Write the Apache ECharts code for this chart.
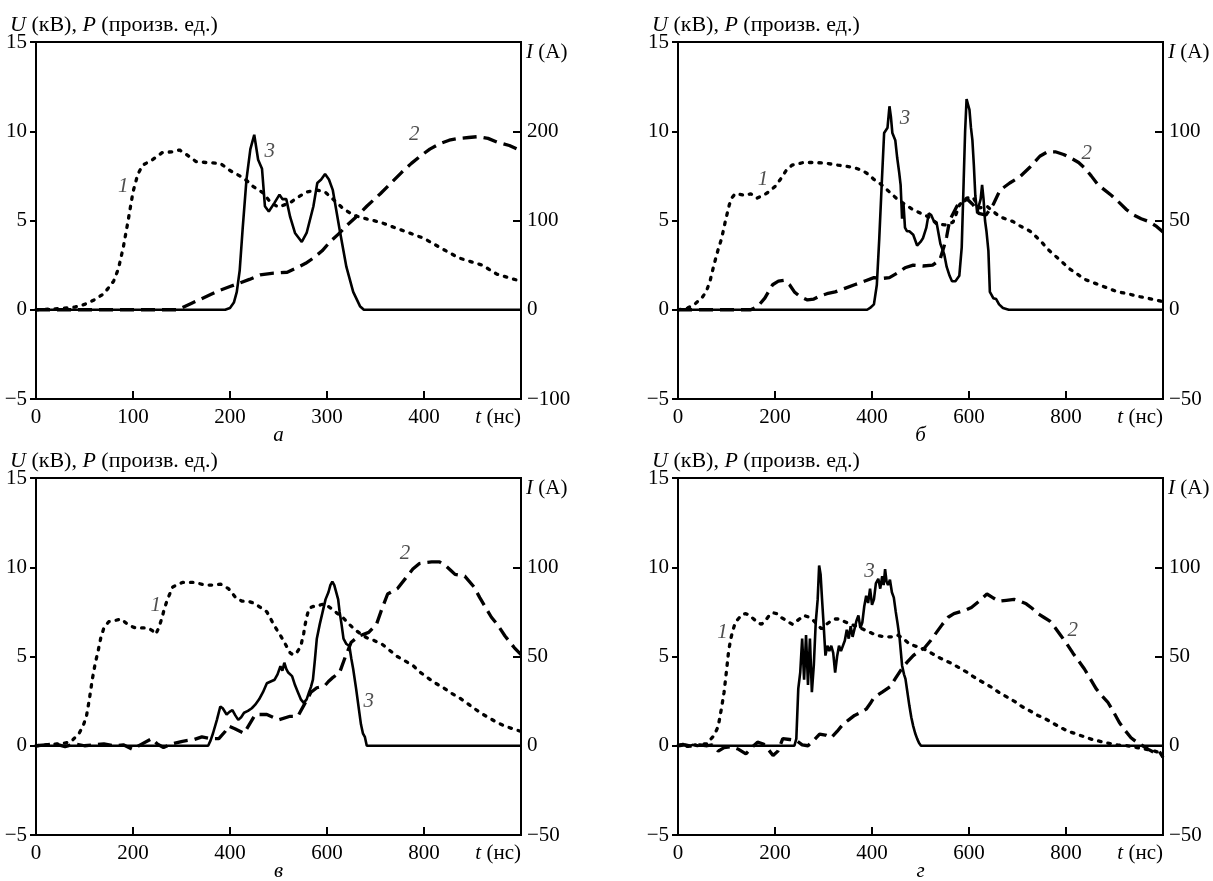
<!DOCTYPE html>
<html><head><meta charset="utf-8">
<script src="https://cdn.jsdelivr.net/npm/echarts@6/dist/echarts.min.js"></script>
<style>html,body{margin:0;padding:0;background:#fff}#c{width:1213px;height:881px}</style>
</head><body><div id="c"></div>
<script>
// ---- Panel а (t 0..500 нс; curve 3 in A, right axis −100..200)
const A1 = [[0,0],[20,0.05],[40,0.15],[50,0.3],[60,0.55],[70,0.9],[80,1.6],[85,2.3],[90,3.5],[95,5.0],[100,6.6],[105,7.6],[110,8.1],[120,8.4],[130,8.8],[140,8.85],[148,8.95],[155,8.7],[165,8.3],[175,8.25],[190,8.2],[200,7.8],[210,7.5],[218,7.2],[224,6.9],[234,6.55],[242,6.0],[250,5.75],[262,6.0],[270,6.3],[279,6.6],[290,6.7],[298,6.6],[306,6.2],[316,5.7],[327,5.3],[340,5.1],[355,4.9],[370,4.6],[385,4.3],[400,4.0],[416,3.5],[436,2.9],[460,2.5],[475,2.0],[490,1.75],[500,1.6]];
const A2 = [[0,0],[145,0],[150,0.1],[160,0.35],[170,0.6],[180,0.85],[190,1.1],[200,1.3],[210,1.5],[220,1.7],[231,1.95],[245,2.05],[259,2.1],[269,2.35],[278,2.6],[286,2.9],[295,3.3],[303,3.8],[312,4.25],[320,4.7],[330,5.2],[341,5.8],[355,6.5],[366,7.1],[377,7.7],[387,8.2],[396,8.6],[406,9.0],[416,9.3],[426,9.5],[436,9.6],[446,9.65],[456,9.7],[466,9.6],[475,9.4],[488,9.2],[500,8.9]];
const A3 = [[0,0],[195,0],[200,2],[204,8],[207,20],[210,44],[213,90],[217,146],[221,180],[225,196],[229,168],[233,158],[236,116],[240,110],[246,120],[251,129],[254,124],[258,124],[262,104],[267,86],[274,76],[279,86],[286,116],[290,142],[294,146],[298,152],[302,146],[306,134],[313,90],[320,48],[327,20],[334,4],[338,0],[500,0]];
const A_LBL = [[90,6.9,'1'],[390,9.8,'2'],[241,8.85,'3']];

// ---- Panel б (t 0..1000 нс; curve 3 in A, right axis −50..100)
const B1 = [[0,0],[20,0.1],[34,0.3],[50,0.7],[58,1.0],[66,1.6],[74,2.5],[82,3.3],[90,4.0],[98,5.0],[106,5.9],[112,6.3],[118,6.5],[130,6.45],[140,6.4],[150,6.5],[163,6.25],[175,6.4],[187,6.6],[200,6.9],[211,7.3],[223,7.8],[235,8.1],[259,8.25],[283,8.25],[307,8.2],[330,8.1],[356,8.0],[370,7.9],[380,7.8],[392,7.6],[404,7.3],[420,7.0],[436,6.6],[452,6.2],[468,5.9],[485,5.6],[501,5.4],[520,5.15],[534,4.8],[550,4.75],[567,4.9],[581,5.9],[595,6.25],[608,6.3],[622,5.7],[637,5.8],[650,5.5],[664,5.2],[690,4.95],[705,4.7],[726,4.4],[746,3.9],[766,3.3],[787,2.8],[807,2.3],[823,2.0],[839,1.7],[863,1.45],[887,1.2],[907,1.0],[927,0.9],[948,0.75],[968,0.65],[985,0.55],[1000,0.45]];
const B2 = [[0,0],[150,0],[165,0.2],[179,0.65],[195,1.4],[207,1.6],[219,1.65],[230,1.4],[240,1.0],[251,0.75],[267,0.55],[280,0.6],[291,0.75],[307,0.9],[324,1.0],[344,1.2],[364,1.4],[384,1.6],[404,1.8],[420,1.75],[436,1.8],[452,2.05],[468,2.35],[485,2.5],[505,2.45],[525,2.5],[540,2.8],[548,3.5],[554,4.1],[560,5.0],[575,5.8],[596,6.2],[608,5.9],[620,5.4],[635,5.3],[650,5.9],[664,6.7],[684,7.1],[705,7.45],[726,8.0],[746,8.6],[762,8.85],[778,8.85],[795,8.7],[810,8.5],[826,8.25],[840,7.9],[852,7.5],[866,7.0],[880,6.7],[894,6.4],[910,6.0],[925,5.6],[940,5.3],[955,5.1],[970,4.95],[985,4.7],[1000,4.35]];
const B3 = [[0,0],[390,0],[396,1],[404,3],[410,14],[415,40],[420,70],[425,99],[428,100],[432,102],[436,114],[439,108],[442,99],[445,100],[448,95],[452,85],[456,77],[459,70],[462,51],[465,59],[468,46],[472,44],[477,44],[485,42],[493,36],[500,38],[505,40],[512,46],[517,54],[522,53],[527,50],[533,49],[541,37],[549,31],[554,24],[560,19],[565,16],[572,16],[580,19],[585,35],[589,72],[592,100],[595,118],[598,115],[601,112],[604,102],[607,95],[610,81],[613,64],[617,54],[620,58],[624,62],[627,70],[630,62],[633,50],[636,44],[640,33],[643,10],[647,8],[650,6.5],[656,6],[662,3],[670,1],[682,0],[1000,0]];
const B_LBL = [[175,7.3,'1'],[843,8.75,'2'],[468,10.7,'3']];

// ---- Panel в
const C1 = [[0,0],[20,0.05],[41,0.1],[60,0.15],[73,0.25],[89,0.7],[97,1.1],[104,1.65],[110,2.6],[116,3.7],[122,4.6],[128,5.3],[134,6.1],[140,6.6],[150,6.95],[160,7.0],[176,7.1],[191,6.75],[205,6.6],[215,6.6],[231,6.6],[240,6.45],[247,6.25],[253,6.6],[259,7.1],[265,7.7],[271,8.2],[282,8.9],[302,9.15],[326,9.15],[350,9.0],[365,9.0],[381,9.05],[397,8.8],[413,8.25],[425,8.1],[437,8.1],[448,8.0],[460,7.8],[476,7.5],[484,7.1],[492,6.7],[500,6.35],[508,6.0],[516,5.6],[524,5.2],[530,5.1],[536,5.15],[542,5.4],[547,5.7],[552,6.3],[555,6.8],[559,7.3],[563,7.7],[571,7.8],[579,7.8],[587,7.9],[595,7.95],[603,7.8],[611,7.65],[622,7.4],[634,7.15],[646,6.8],[658,6.5],[670,6.25],[682,6.05],[697,5.9],[713,5.7],[729,5.35],[745,5.0],[761,4.75],[777,4.5],[793,4.1],[808,3.8],[824,3.5],[840,3.25],[856,2.95],[872,2.7],[888,2.4],[903,2.1],[919,1.8],[935,1.55],[951,1.3],[967,1.1],[983,0.95],[1000,0.8]];
const C2 = [[0,0],[20,0.05],[40,0.1],[60,-0.05],[80,0.1],[100,0],[120,0.05],[140,0.1],[160,0],[180,0.05],[199,-0.2],[215,0.05],[239,0.4],[250,0.1],[263,-0.1],[280,0.1],[302,0.25],[326,0.35],[342,0.5],[361,0.4],[377,0.4],[390,0.8],[397,1.1],[410,0.95],[429,0.7],[440,1.2],[452,1.75],[476,1.75],[500,1.45],[524,1.65],[540,1.65],[555,2.4],[567,3.0],[579,3.25],[595,3.35],[603,3.6],[611,3.8],[626,4.1],[638,5.0],[650,5.8],[666,6.15],[686,6.35],[702,6.8],[713,7.65],[725,8.5],[745,8.8],[761,9.35],[777,9.9],[790,10.2],[801,10.25],[816,10.3],[832,10.3],[844,10.1],[856,9.8],[864,9.6],[884,9.5],[903,8.9],[915,8.3],[927,7.75],[939,7.2],[951,6.8],[967,6.15],[986,5.5],[1000,5.1]];
const C3 = [[0,0],[355,0],[360,3],[365,7],[373,14.5],[380,22],[385,21],[393,17.5],[399,19],[405,20],[411,17],[417,14.5],[423,16],[429,18.5],[437,19.5],[445,21],[452,23],[460,26],[468,30],[476,35],[484,36],[492,37],[498,40],[504,44.5],[508,42],[512,46.5],[516,43],[520,41],[524,40],[528,39],[534,34],[540,30],[546,26],[552,24],[558,26],[563,30],[567,33],[571,37],[575,48],[579,60],[585,68],[591,75],[597,82],[603,86],[607,90],[611,92],[615,90],[619,89],[623,82],[626,75],[630,68],[634,60],[640,57],[646,56],[650,49],[654,43],[660,32],[666,20],[670,12],[674,7],[678,5],[682,0],[1000,0]];
const C_LBL = [[247,7.85,'1'],[761,10.75,'2'],[686,2.5,'3']];

// ---- Panel г
const D1 = [[0,0],[10,0.1],[20,-0.05],[30,0.1],[40,0],[50,0.1],[60,0.1],[67,0.35],[75,0.6],[83,1.1],[89,2.0],[95,3.0],[100,4.2],[104,5.2],[108,5.9],[112,6.35],[118,6.9],[124,7.1],[132,7.35],[140,7.4],[148,7.3],[156,7.1],[164,6.9],[172,6.8],[180,7.0],[188,7.3],[196,7.45],[204,7.4],[212,7.2],[224,7.0],[236,6.8],[248,7.05],[260,7.3],[270,7.2],[280,7.0],[288,6.75],[296,6.55],[306,6.8],[316,7.0],[324,7.1],[332,7.1],[344,6.95],[356,6.8],[368,6.7],[380,6.55],[392,6.4],[404,6.25],[416,6.15],[429,6.1],[441,6.1],[453,6.2],[465,6.0],[477,5.7],[493,5.55],[509,5.4],[525,5.15],[541,4.9],[553,4.75],[565,4.6],[581,4.35],[597,4.1],[613,3.8],[629,3.55],[645,3.3],[661,3.0],[677,2.75],[693,2.5],[709,2.2],[726,1.95],[742,1.7],[758,1.5],[774,1.25],[790,1.0],[806,0.8],[822,0.65],[838,0.5],[854,0.35],[870,0.25],[886,0.15],[906,0.05],[926,0],[946,-0.1],[966,-0.2],[983,-0.3],[1000,-0.45]];
const D2 = [[0,0],[15,0.05],[30,-0.05],[45,0.05],[60,0],[70,0.05],[83,-0.3],[95,-0.1],[110,-0.05],[125,-0.2],[140,-0.45],[152,-0.1],[164,0.2],[176,0.1],[186,-0.2],[196,-0.55],[206,-0.3],[216,0.4],[230,0.35],[244,0.3],[256,0.05],[268,0],[280,0.3],[292,0.65],[304,0.6],[316,0.45],[328,0.8],[340,1.2],[352,1.45],[364,1.7],[376,1.85],[388,2.05],[396,2.35],[404,2.7],[421,3.0],[437,3.3],[449,3.8],[461,4.3],[473,4.7],[485,5.05],[497,5.3],[509,5.5],[521,5.9],[533,6.35],[545,6.8],[557,7.2],[569,7.4],[581,7.5],[593,7.6],[605,7.75],[621,8.1],[637,8.5],[649,8.3],[661,8.1],[677,8.15],[693,8.2],[705,8.1],[718,7.95],[730,7.7],[742,7.4],[754,7.2],[766,7.0],[778,6.6],[790,6.15],[802,5.7],[814,5.2],[826,4.75],[838,4.3],[850,3.75],[862,3.2],[874,2.8],[886,2.45],[898,1.9],[910,1.3],[922,0.85],[934,0.45],[946,0.2],[958,0],[970,-0.2],[983,-0.4],[992,-0.3],[1000,-0.65]];
const D3 = [[0,0],[10,1],[20,-0.5],[30,0.5],[40,0],[240,0],[244,4],[248,32],[252,41],[256,60],[260,37],[264,62],[268,34],[272,60],[276,30],[280,45],[284,69],[288,82],[291,101],[294,96],[297,82],[300,69],[304,50.5],[308,56],[312,53],[316,56],[320,52],[324,41],[328,50],[332,56],[336,53],[340,52],[344,59],[348,65],[352,60],[356,67],[360,61],[364,62],[368,70],[372,73],[376,66],[380,69],[384,78],[388,84],[392,80],[396,88],[400,79],[404,82],[408,91],[413,93.5],[417,88],[421,95],[424,90],[427,99],[430,92],[433,90],[437,93],[441,86],[445,83],[449,75],[453,68],[457,60],[462,45],[466,40],[469,37.5],[473,30],[477,22.5],[481,16],[485,11],[489,7],[493,4],[497,1.5],[501,0],[1000,0]];
const D_LBL = [[92,6.35,'1'],[814,6.45,'2'],[395,9.75,'3']];

const PANELS = [
  {left:36, top:42, xMax:500, xInt:100, rMin:-100, rMax:300, rInt:100, s:[A1,A2,A3], lbl:A_LBL, cap:'а'},
  {left:678, top:42, xMax:1000, xInt:200, rMin:-50, rMax:150, rInt:50, s:[B1,B2,B3], lbl:B_LBL, cap:'б'},
  {left:36, top:478, xMax:1000, xInt:200, rMin:-50, rMax:150, rInt:50, s:[C1,C2,C3], lbl:C_LBL, cap:'в'},
  {left:678, top:478, xMax:1000, xInt:200, rMin:-50, rMax:150, rInt:50, s:[D1,D2,D3], lbl:D_LBL, cap:'г'}
];
const W = 485, H = 357;
const FF = '"Liberation Serif", "Times New Roman", serif';
const FS = 21, HFS = 22;
const fmt = v => (v < 0 ? '\u2212' + Math.abs(v) : String(v));
const richOf = fs => ({i:{fontStyle:'italic', fontFamily:FF, fontSize:fs, color:'#000'}, n:{fontFamily:FF, fontSize:fs, color:'#000'}});
const richI = richOf(FS), richH = richOf(HFS);
const tickStyle = {color:'#000', width:2};

const grid = [], xAxis = [], yAxis = [], series = [], graphic = [];
PANELS.forEach((p, i) => {
  grid.push({left:p.left, top:p.top, width:W, height:H, show:true, borderColor:'#000', borderWidth:2, backgroundColor:'transparent'});
  xAxis.push({gridIndex:i, type:'value', position:'bottom', min:0, max:p.xMax, interval:p.xInt,
    axisLine:{show:false, onZero:false}, splitLine:{show:false},
    axisTick:{show:true, inside:true, length:8, lineStyle:tickStyle},
    axisLabel:{margin:8, color:'#000', fontFamily:FF, fontSize:FS, showMaxLabel:true, showMinLabel:true, alignMaxLabel:'right',
      formatter: v => v === p.xMax ? '{i|t}{n| (нс)}' : '{n|' + fmt(v) + '}', rich:richI}});
  yAxis.push({gridIndex:i, type:'value', position:'left', min:-5, max:15, interval:5,
    axisLine:{show:false, onZero:false}, splitLine:{show:false},
    axisTick:{show:true, inside:false, length:6, lineStyle:tickStyle},
    axisLabel:{margin:9, color:'#000', fontFamily:FF, fontSize:FS, formatter: fmt}});
  yAxis.push({gridIndex:i, type:'value', position:'right', min:p.rMin, max:p.rMax, interval:p.rInt,
    axisLine:{show:false, onZero:false}, splitLine:{show:false},
    axisTick:{show:true, inside:true, length:8, lineStyle:tickStyle},
    axisLabel:{margin:6, color:'#000', fontFamily:FF, fontSize:FS, formatter: v => v === p.rMax ? '' : fmt(v)}});
  series.push({type:'line', xAxisIndex:i, yAxisIndex:2*i, data:p.s[0], symbol:'none', showSymbol:false,
    lineStyle:{color:'#000', width:3.3, type:[2.5,7], cap:'round'}});
  series.push({type:'line', xAxisIndex:i, yAxisIndex:2*i, data:p.s[1], symbol:'none', showSymbol:false,
    lineStyle:{color:'#000', width:3.3, type:[14,7]}});
  series.push({type:'line', xAxisIndex:i, yAxisIndex:2*i+1, data:p.s[2], symbol:'none', showSymbol:false,
    lineStyle:{color:'#000', width:2.6, type:'solid'}});
  series.push({type:'scatter', xAxisIndex:i, yAxisIndex:2*i, data:p.lbl, symbolSize:1,
    itemStyle:{color:'transparent'}, silent:true,
    label:{show:true, position:'inside', formatter: d => d.value[2], color:'#222', fontFamily:FF, fontSize:FS, fontStyle:'italic'}});
  graphic.push({type:'text', x:p.left - 26, y:p.top - 28, style:{text:'{i|U}{n| (кВ), }{i|P}{n| (произв. ед.)}', rich:richH, fill:'#000', font:HFS + 'px ' + FF}});
  graphic.push({type:'text', x:p.left + W + 5, y:p.top + 10, style:{text:'{i|I}{n| (A)}', rich:richI, fill:'#000', font:FS + 'px ' + FF, verticalAlign:'middle', textVerticalAlign:'middle'}});
  graphic.push({type:'text', x:p.left + W/2, y:p.top + H + 36, style:{text:p.cap, fill:'#000', font:'italic ' + FS + 'px ' + FF, align:'center', textAlign:'center', verticalAlign:'middle', textVerticalAlign:'middle'}});
});

const chart = echarts.init(document.getElementById('c'), null, {renderer:'canvas'});
chart.setOption({animation:false, backgroundColor:'#fff', grid, xAxis, yAxis, series, graphic});
</script></body></html>
